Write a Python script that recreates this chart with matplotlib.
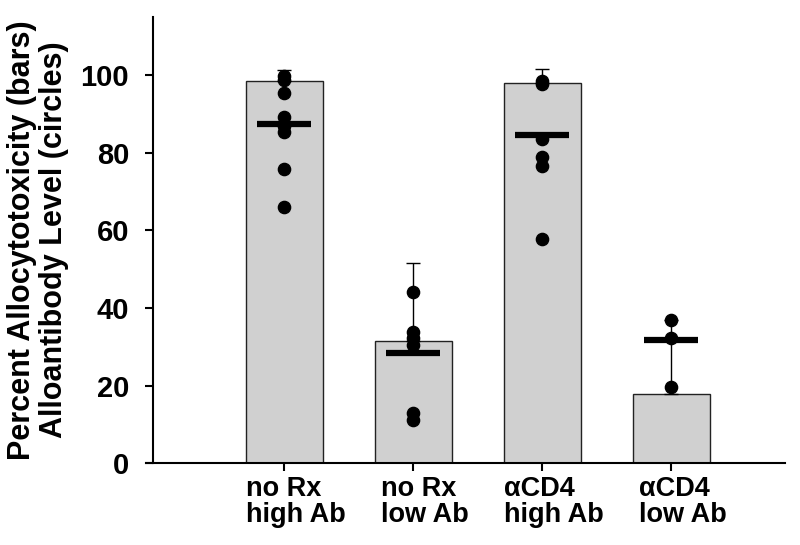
import matplotlib
matplotlib.use("Agg")
import matplotlib.pyplot as plt
import matplotlib.transforms as mtransforms
import numpy as np

plt.rcParams['font.family'] = ['Liberation Sans', 'DejaVu Sans']
plt.rcParams['font.weight'] = 'bold'

categories = ["no Rx\nhigh Ab", "no Rx\nlow Ab", "αCD4\nhigh Ab", "αCD4\nlow Ab"]
bar_values = [98.4, 31.5, 97.9, 17.8]
bar_errors = [2.9, 20.2, 3.6, 19.2]
antibody_means = [87.3, 28.4, 84.5, 31.8]
antibody_points = [
    [99.8, 98.8, 95.3, 89.1, 86.9, 85.3, 75.7, 65.9],
    [44.2, 33.9, 32.3, 30.5, 12.9, 11.1],
    [98.6, 97.6, 83.5, 78.8, 76.7, 57.9],
    [37.0, 32.3, 19.6],
]
yticks = [0, 20, 40, 60, 80, 100]

fig = plt.figure(figsize=(8.0, 5.45), dpi=100)
ax = fig.add_axes([0.191, 0.150, 0.790, 0.819])

x = np.arange(len(categories))
ax.bar(x, bar_values, width=0.6, color='#d0d0d0', edgecolor='#222222',
       linewidth=1.0, zorder=2)
ax.errorbar(x, bar_values, yerr=[np.zeros(len(x)), bar_errors], fmt='none',
            ecolor='black', elinewidth=1.0, capsize=5, capthick=1.0, zorder=3)
for xi, pts in zip(x, antibody_points):
    ax.plot([xi] * len(pts), pts, 'o', color='black', markersize=8.8,
            zorder=4, linestyle='none')
for xi, m in zip(x, antibody_means):
    ax.plot([xi - 0.21, xi + 0.21], [m, m], color='black', linewidth=4.5,
            solid_capstyle='butt', zorder=5)

ax.set_xlim(-1.02, 3.88)
ax.set_ylim(0, 115)
ax.set_yticks(yticks)
ax.set_yticklabels([str(v) for v in yticks], fontsize=21, fontweight='bold')
ax.set_xticks(x)
ax.set_xticklabels([''] * len(categories))

# category labels, shifted slightly right of tick, left-aligned lines
offset = mtransforms.ScaledTranslation(12 / 100, -13 / 100, fig.dpi_scale_trans)
trans = ax.get_xaxis_transform() + offset
for xi, lab in zip(x, categories):
    ax.text(xi, 0, lab, transform=trans, ha='center', va='top',
            multialignment='left', fontsize=19.5, fontweight='bold',
            linespacing=1.0, clip_on=False)

ax.spines['top'].set_visible(False)
ax.spines['right'].set_visible(False)
ax.spines['left'].set_linewidth(1.5)
ax.spines['bottom'].set_linewidth(1.5)
ax.spines['bottom'].set_bounds(-1.07, 3.88)
ax.tick_params(axis='both', direction='out', length=6, width=1.5)
ax.tick_params(axis='y', pad=11)

ax.set_ylabel("Percent Allocytotoxicity (bars)\nAlloantibody Level (circles)",
              fontsize=22, fontweight='bold', linespacing=1.12, labelpad=8)

fig.savefig("out.png", dpi=100)
